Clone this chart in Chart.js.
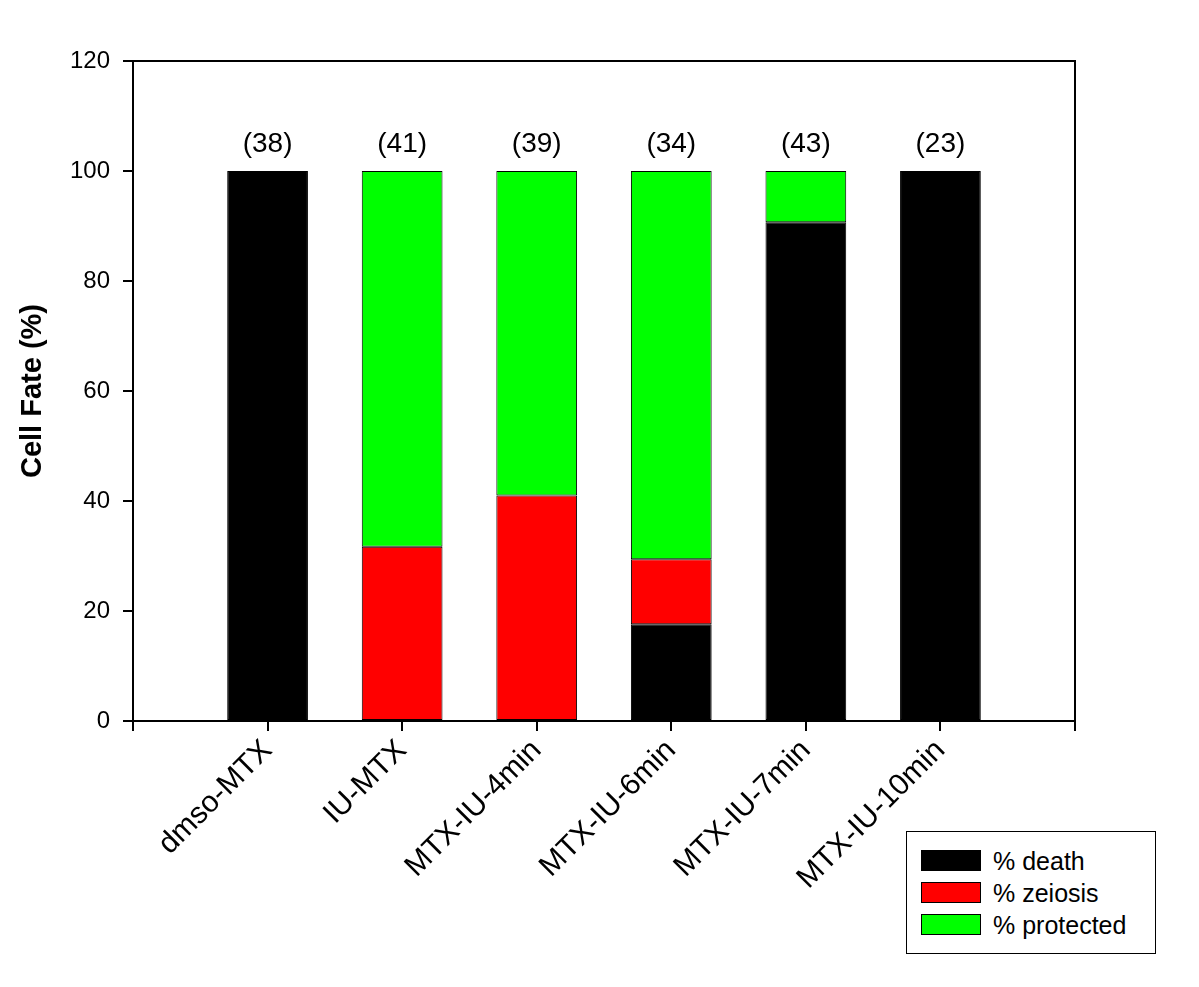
<!DOCTYPE html>
<html>
<head>
<meta charset="utf-8">
<script src="https://cdn.jsdelivr.net/npm/chart.js@4.4.0/dist/chart.umd.min.js"></script>
<style>
    html, body { margin: 0; padding: 0; background: #fff; }
    #wrap { position: relative; width: 1199px; height: 987px; }
    #legend {
        position: absolute; left: 906px; top: 831px; width: 248px; height: 121px;
        border: 1px solid #000; background: #fff;
        font-family: "Liberation Sans", Arial, sans-serif; font-size: 25px; color: #000;
    }
    #legend .row { position: absolute; left: 14px; height: 22px; line-height: 22px; }
    #legend .sw { position: absolute; left: 0; top: 0; width: 58px; height: 19px; border: 1px solid #000; }
    #legend .lbl { position: absolute; left: 72px; top: 0; white-space: nowrap; }
</style>
</head>
<body>
<div id="wrap">
    <canvas id="chart" width="1199" height="987"></canvas>
    <div id="legend"></div>
</div>
<script>
// ----- datos -----
const categorias = ['dmso-MTX', 'IU-MTX', 'MTX-IU-4min', 'MTX-IU-6min', 'MTX-IU-7min', 'MTX-IU-10min'];
const pctDeath = [100, 0, 0, 17.6, 90.7, 100];
const pctZeiosis = [0, 31.7, 41.0, 11.8, 0, 0];
const pctProtected = [0, 68.3, 59.0, 70.6, 9.3, 0];
const nCells = ['(38)', '(41)', '(39)', '(34)', '(43)', '(23)'];
const yTicks = [0, 20, 40, 60, 80, 100, 120];

const FONT = '"Liberation Sans", Arial, sans-serif';

// slot vacio al principio y al final (el eje va de 0 a 7)
const labels = [''].concat(categorias, ['']);
const pad = arr => [null].concat(arr, [null]);

const series = [
    { label: '% death', data: pctDeath, color: '#000000' },
    { label: '% zeiosis', data: pctZeiosis, color: '#ff0000' },
    { label: '% protected', data: pctProtected, color: '#00ff00' }
];

// marco superior/derecho + numeros (n) encima de las barras
const framePlugin = {
    id: 'frame',
    afterDraw(chart) {
        const { ctx, chartArea: a, scales } = chart;
        ctx.save();
        ctx.strokeStyle = '#000';
        ctx.lineWidth = 2;
        ctx.beginPath();
        ctx.moveTo(a.left, a.top);
        ctx.lineTo(a.right, a.top);
        ctx.lineTo(a.right, a.bottom);
        ctx.stroke();

        ctx.fillStyle = '#000';
        ctx.font = '28px ' + FONT;
        ctx.textAlign = 'center';
        ctx.textBaseline = 'middle';
        nCells.forEach((t, i) => {
            ctx.fillText(t, scales.x.getPixelForValue(i + 1), scales.y.getPixelForValue(104.8));
        });
        ctx.restore();
    }
};

new Chart(document.getElementById('chart').getContext('2d'), {
    type: 'bar',
    data: {
        labels: labels,
        datasets: series.map(s => ({
            label: s.label,
            data: pad(s.data),
            backgroundColor: s.color,
            borderColor: '#000',
            borderWidth: 1,
            borderSkipped: false,
            barPercentage: 0.6,
            categoryPercentage: 1
        }))
    },
    options: {
        responsive: false,
        animation: false,
        layout: { padding: { left: 0, top: 61, right: 124, bottom: 0 } },
        plugins: { legend: { display: false }, tooltip: { enabled: false } },
        scales: {
            x: {
                stacked: true,
                offset: false,
                grid: { display: true, offset: false, drawOnChartArea: false, drawTicks: true, tickLength: 10, color: '#000', lineWidth: 2 },
                border: { color: '#000', width: 2 },
                ticks: {
                    autoSkip: false, minRotation: 45, maxRotation: 45,
                    color: '#000', font: { family: FONT, size: 30 }, padding: 2
                },
                afterFit(scale) { scale.height = 266; }
            },
            y: {
                stacked: true,
                min: 0, max: 120,
                afterBuildTicks(scale) { scale.ticks = yTicks.map(v => ({ value: v })); },
                grid: { display: true, drawOnChartArea: false, drawTicks: true, tickLength: 10, color: '#000', lineWidth: 2 },
                border: { color: '#000', width: 2 },
                ticks: { color: '#000', font: { family: FONT, size: 24 }, padding: 13 },
                title: {
                    display: true, text: 'Cell Fate (%)', color: '#000',
                    font: { family: FONT, size: 29, weight: 'bold' }, padding: { top: 16, bottom: 0 }
                },
                afterFit(scale) { scale.width = 133; }
            }
        }
    },
    plugins: [framePlugin]
});

// leyenda
const legend = document.getElementById('legend');
series.forEach((s, i) => {
    const row = document.createElement('div');
    row.className = 'row';
    row.style.top = (18 + i * 32) + 'px';
    row.innerHTML = '<span class="sw" style="background:' + s.color + '"></span><span class="lbl">' + s.label + '</span>';
    legend.appendChild(row);
});
</script>
</body>
</html>
